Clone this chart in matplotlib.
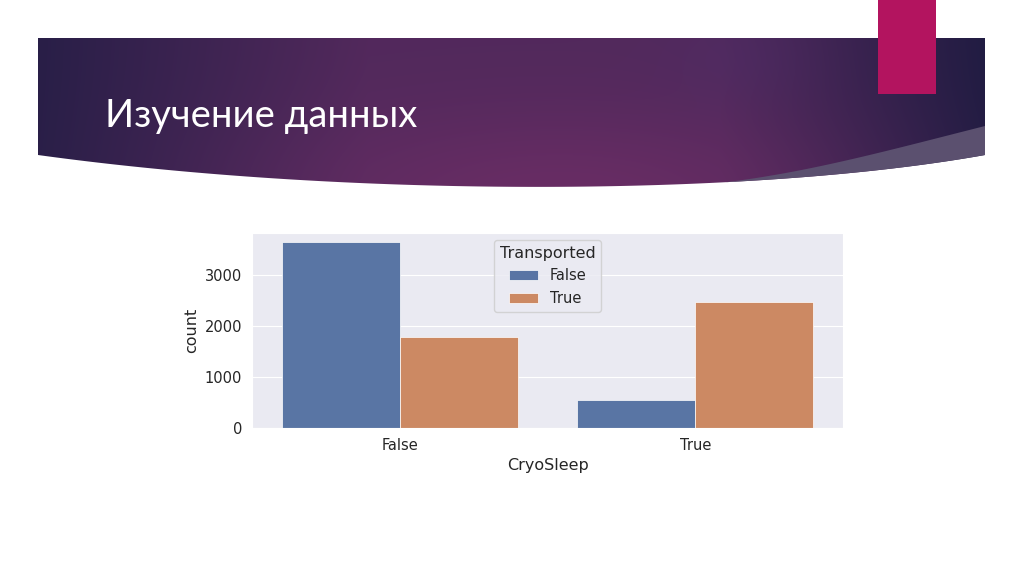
import numpy as np
import matplotlib
matplotlib.use('Agg')
import matplotlib.pyplot as plt
import seaborn as sns
from matplotlib.patches import Polygon, Rectangle

sns.set_style('darkgrid')
plt.rcParams['font.family'] = ['DejaVu Sans']

# data
cryo = ['False', 'True']
transported = ['False', 'True']
counts_false = [3650, 554]    # Transported = False
counts_true = [1789, 2483]    # Transported = True

slide_title = 'Изучение данных'

W, H = 1024, 574
fig = plt.figure(figsize=(W / 100, H / 100), dpi=100)
fig.patch.set_facecolor('white')

# slide background in pixel coords
bg = fig.add_axes([0, 0, 1, 1])
bg.set_xlim(0, W)
bg.set_ylim(H, 0)
bg.axis('off')


def bezier(p0, p1, p2, p3, n=200):
    t = np.linspace(0, 1, n)[:, None]
    p0, p1, p2, p3 = map(np.array, (p0, p1, p2, p3))
    return ((1 - t) ** 3) * p0 + 3 * (1 - t) ** 2 * t * p1 + 3 * (1 - t) * t ** 2 * p2 + t ** 3 * p3


bottom = bezier((38, 155), (350, 198), (750, 197), (985, 155), 400)
banner_pts = np.vstack([[(38, 38), (985, 38)], bottom[::-1]])
banner = Polygon(banner_pts, closed=True, facecolor='none', edgecolor='none')
bg.add_patch(banner)

# gradient fill for the banner
gx, gy = np.meshgrid(np.linspace(38, 985, 600), np.linspace(38, 195, 120))
c_left = np.array([0.16, 0.12, 0.28])
c_mid = np.array([0.32, 0.16, 0.36])
c_right = np.array([0.13, 0.11, 0.26])
w_l = np.clip(1 - (gx - 38) / 330, 0, 1)[..., None]
w_r = np.clip((gx - 720) / 265, 0, 1)[..., None]
w_m = 1 - w_l - w_r
img = w_l * c_left + w_m * c_mid + w_r * c_right
glow = 0.8 * np.exp(-(((gx - 560) / 280) ** 2 + ((gy - 200) / 90) ** 2))[..., None]
img = img * (1 - glow) + np.array([0.43, 0.18, 0.40]) * glow
glow2 = 0.3 * np.exp(-(((gx - 740) / 80) ** 2 + ((gy - 55) / 50) ** 2))[..., None]
img = img * (1 - glow2) + np.array([0.30, 0.18, 0.42]) * glow2
im = bg.imshow(img, extent=(38, 985, 195, 38), origin='upper', aspect='auto',
               interpolation='bilinear', zorder=1)
im.set_clip_path(banner)

# lighter swoosh on the right
low = bottom[bottom[:, 0] >= 725]
tip = tuple(low[0])
upper = bezier((985, 126), (890, 150), (810, 172), tip, 100)
swoosh = Polygon(np.vstack([upper, low]), closed=True,
                 facecolor='#5b506f', edgecolor='none', zorder=2)
bg.add_patch(swoosh)

# magenta block
bg.add_patch(Rectangle((878, 0), 58, 94, facecolor='#b3145f', edgecolor='none', zorder=3))

bg.text(105, 127, slide_title, color='white', fontsize=27.5,
        family=['Lato', 'DejaVu Sans'], va='baseline', ha='left', zorder=4)

# the chart
ax = fig.add_axes([252 / W, 1 - 428 / H, 591 / W, 195 / H])
x = np.arange(len(cryo))
width = 0.4
blue = sns.desaturate('#4C72B0', 0.75)
orange = sns.desaturate('#DD8452', 0.75)
ax.bar(x - width / 2, counts_false, width, color=blue, label=transported[0],
       edgecolor='white', linewidth=0.5, zorder=2)
ax.bar(x + width / 2, counts_true, width, color=orange, label=transported[1],
       edgecolor='white', linewidth=0.5, zorder=2)

ax.set_xlim(-0.5, 1.5)
ax.set_ylim(0, max(counts_false + counts_true) * 1.05)
ax.set_xticks(x)
ax.set_xticklabels(cryo)
ax.set_yticks([0, 1000, 2000, 3000])
ax.grid(axis='x', visible=False)
ax.tick_params(labelsize=10.5, colors='#262626')
ax.set_xlabel('CryoSleep', fontsize=11.5, color='#262626')
ax.set_ylabel('count', fontsize=11.5, color='#262626')
leg = ax.legend(title='Transported', loc='upper center', fontsize=10.5,
                title_fontsize=11.5)

fig.savefig('out.png', dpi=100)
